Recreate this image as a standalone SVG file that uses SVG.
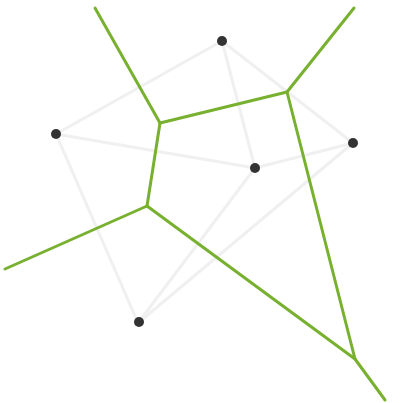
<svg xmlns="http://www.w3.org/2000/svg" width="414" height="403" viewBox="0 0 414 403">
<style>
.del{stroke:#f0f0f0;stroke-width:3;fill:none;stroke-linecap:round}
.vor{stroke:#78b030;stroke-width:3;fill:none;stroke-linecap:round}
.site{fill:#333}
</style>
<rect width="414" height="403" fill="#fff"/>
<g id="connectors">
<g id="delaunay">
<line class="del" x1="222" y1="41" x2="56" y2="134"/>
<line class="del" x1="222" y1="41" x2="255" y2="168"/>
<line class="del" x1="222" y1="41" x2="353" y2="143"/>
<line class="del" x1="56" y1="134" x2="255" y2="168"/>
<line class="del" x1="255" y1="168" x2="353" y2="143"/>
<line class="del" x1="56" y1="134" x2="138" y2="323"/>
<line class="del" x1="255" y1="168" x2="138" y2="323"/>
<line class="del" x1="353" y1="143" x2="138" y2="323"/>
</g>
<g id="voronoi">
<line class="vor" x1="95" y1="8" x2="160" y2="123"/>
<line class="vor" x1="160" y1="123" x2="287" y2="92"/>
<line class="vor" x1="287" y1="92" x2="354" y2="8"/>
<line class="vor" x1="160" y1="123" x2="147" y2="206"/>
<line class="vor" x1="147" y1="206" x2="5" y2="269"/>
<line class="vor" x1="147" y1="206" x2="355" y2="359"/>
<line class="vor" x1="287" y1="92" x2="355" y2="359"/>
<line class="vor" x1="355" y1="359" x2="385" y2="400"/>
</g>
</g>
<g id="site-a"><circle class="site" cx="222" cy="41" r="5"/></g>
<g id="site-b"><circle class="site" cx="56" cy="134" r="5"/></g>
<g id="site-c"><circle class="site" cx="255" cy="168" r="5"/></g>
<g id="site-d"><circle class="site" cx="353" cy="143" r="5"/></g>
<g id="site-e"><circle class="site" cx="139" cy="322" r="5"/></g>
</svg>
